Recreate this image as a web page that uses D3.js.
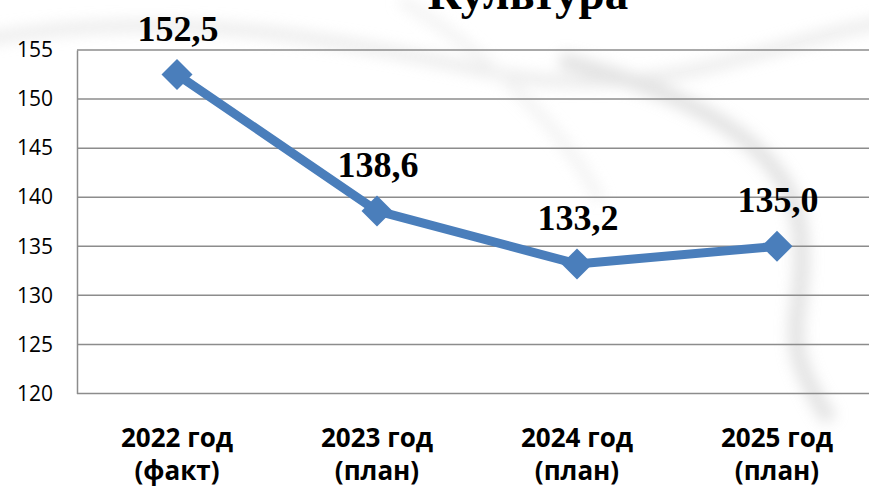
<!DOCTYPE html>
<html>
<head>
<meta charset="utf-8">
<script src="https://cdn.jsdelivr.net/npm/d3@7"></script>
<style>
  body { margin: 0; background: #fff; }
  svg { display: block; }
</style>
</head>
<body>
<div id="chart"></div>
<script>
const categories = ["2022 год|(факт)", "2023 год|(план)", "2024 год|(план)", "2025 год|(план)"];
const values = [152.5, 138.6, 133.2, 135.0];
const valueLabels = ["152,5", "138,6", "133,2", "135,0"];
const yTicks = [120, 125, 130, 135, 140, 145, 150, 155];
const title = "Культура";

const W = 869, H = 488;
const margin = { top: 50, right: -8, bottom: 94.5, left: 77 };
const width = W - margin.left - margin.right;
const height = H - margin.top - margin.bottom;

const svg = d3.select("#chart").append("svg")
  .attr("width", W).attr("height", H);

// faint background swirls
const defs = svg.append("defs");
defs.append("filter").attr("id", "blur")
  .append("feGaussianBlur").attr("stdDeviation", 7);
const bg = svg.append("g").attr("filter", "url(#blur)").attr("fill", "none").attr("opacity", 0.55);
bg.append("path").attr("d", "M-20,40 C150,10 300,30 480,70 S760,40 900,20")
  .attr("stroke", "#ddd").attr("stroke-width", 12);
bg.append("path").attr("d", "M560,60 C680,90 790,140 800,230 S770,330 830,420")
  .attr("stroke", "#ccc").attr("stroke-width", 16);
bg.append("path").attr("d", "M400,0 C470,40 560,120 600,200")
  .attr("stroke", "#e6e6e6").attr("stroke-width", 10);

svg.append("text")
  .attr("x", 528).attr("y", 9)
  .attr("text-anchor", "middle")
  .style("font-family", "'Liberation Serif', 'Times New Roman', serif")
  .style("font-weight", "bold").style("font-size", "47px")
  .text(title);

const g = svg.append("g").attr("transform", `translate(${margin.left},${margin.top})`);

const x = d3.scalePoint().domain(categories).range([0, width]).padding(0.5);
const y = d3.scaleLinear().domain([120, 155]).range([height, 0]);

// gridlines
g.append("g").selectAll("line").data(yTicks).join("line")
  .attr("x1", 0).attr("x2", width)
  .attr("y1", d => y(d)).attr("y2", d => y(d))
  .attr("stroke", "#8c8c8c").attr("stroke-width", 1.5);

// left axis
const yAxis = g.append("g")
  .call(d3.axisLeft(y).tickValues(yTicks).tickSize(0).tickPadding(24));
yAxis.select(".domain").attr("stroke", "#8c8c8c").attr("stroke-width", 1.5);
yAxis.selectAll("text")
  .style("font-family", "'Open Sans', 'Liberation Sans', sans-serif")
  .style("font-size", "21px").attr("fill", "#000");

// x labels
const xl = g.append("g").selectAll("text").data(categories).join("text")
  .attr("x", d => x(d)).attr("y", height + 53)
  .attr("text-anchor", "middle")
  .style("font-family", "'Open Sans', 'Liberation Sans', sans-serif")
  .style("font-weight", "bold").style("font-size", "26px");
xl.each(function(d) {
  const parts = d.split("|");
  d3.select(this).selectAll("tspan").data(parts).join("tspan")
    .attr("x", x(d)).attr("dy", (p, i) => i === 0 ? 0 : 33)
    .text(p => p);
});

// line
const pts = categories.map((c, i) => [x(c), y(values[i])]);
g.append("path").datum(pts)
  .attr("fill", "none").attr("stroke", "#4a7ebb")
  .attr("stroke-width", 9).attr("stroke-linejoin", "round")
  .attr("d", d3.line());

g.append("g").selectAll("path.m").data(pts).join("path")
  .attr("class", "m")
  .attr("transform", d => `translate(${d[0]},${d[1]})`)
  .attr("d", "M0,-15.5L15.5,0L0,15.5L-15.5,0Z")
  .attr("fill", "#4a7ebb");

// value labels
g.append("g").selectAll("text").data(pts).join("text")
  .attr("x", d => d[0] + 1).attr("y", d => d[1] - 34)
  .attr("text-anchor", "middle")
  .style("font-family", "'Liberation Serif', 'Times New Roman', serif")
  .style("font-weight", "bold").style("font-size", "36px")
  .text((d, i) => valueLabels[i]);
</script>
</body>
</html>
